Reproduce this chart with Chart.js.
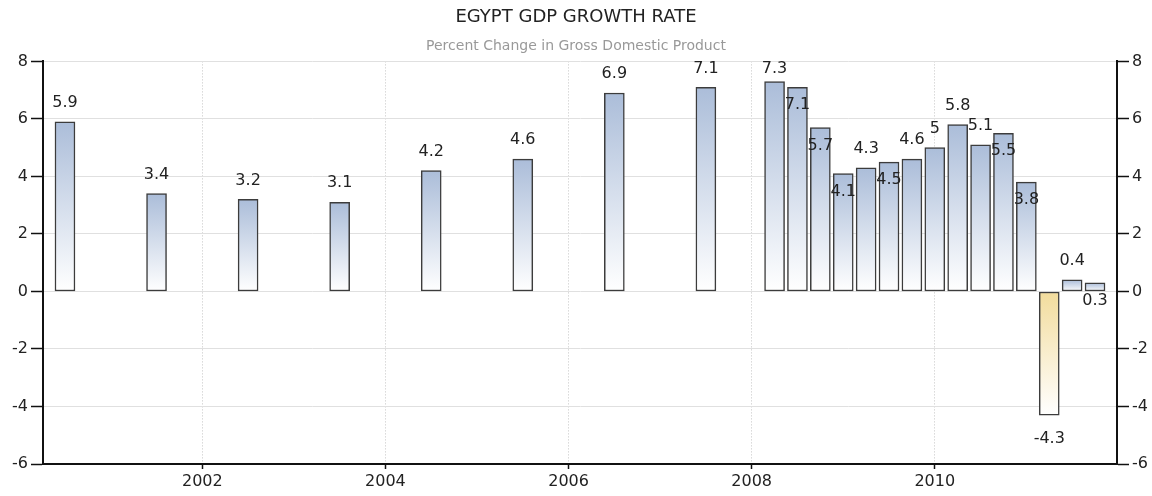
<!DOCTYPE html>
<html>
<head>
<meta charset="utf-8">
<title>Egypt GDP Growth Rate</title>
<script src="https://cdn.jsdelivr.net/npm/chart.js@4.4.1/dist/chart.umd.min.js"></script>
<style>
  html, body { margin: 0; padding: 0; background: #fff; }
  #wrap { width: 1152px; height: 496px; }
</style>
</head>
<body>
<div id="wrap"><canvas id="gdpChart"></canvas></div>
<script>
// Values. x = end of the period, as a decimal year
const periods = [2000.5, 2001.5, 2002.5, 2003.5, 2004.5, 2005.5, 2006.5, 2007.5,
    2008.25, 2008.5, 2008.75, 2009.0, 2009.25, 2009.5, 2009.75, 2010.0,
    2010.25, 2010.5, 2010.75, 2011.0, 2011.25, 2011.5, 2011.75]
const growth = [5.9, 3.4, 3.2, 3.1, 4.2, 4.6, 6.9, 7.1,
    7.3, 7.1, 5.7, 4.1, 4.3, 4.5, 4.6, 5.0,
    5.8, 5.1, 5.5, 3.8, -4.3, 0.4, 0.3]
const yearTicks = [2002, 2004, 2006, 2008, 2010]
const valueTicks = [-6, -4, -2, 0, 2, 4, 6, 8]

Chart.defaults.font.family = '"DejaVu Sans", Verdana, sans-serif'
const tickFont = { size: 16 }
const ink = '#222'

// vertical gradient: colour at the top of each bar, white at the bottom
const barFill = (c) => {
    const chart = c.chart
    if (!chart.chartArea || !c.raw) return '#b0c1da'
    const v = c.raw.y
    const y = chart.scales.y
    const top = y.getPixelForValue(Math.max(v, 0))
    const bottom = y.getPixelForValue(Math.min(v, 0))
    const g = chart.ctx.createLinearGradient(0, top, 0, bottom)
    g.addColorStop(0, v < 0 ? '#f2dc9c' : '#abbdd9')
    g.addColorStop(1, '#ffffff')
    return g
}

// value labels, moved inside / beside the bar when they would overlap
const barLabels = {
    id: 'barLabels',
    afterDatasetsDraw(chart) {
        const { ctx, chartArea } = chart
        const meta = chart.getDatasetMeta(0)
        ctx.save()
        ctx.font = '16px "DejaVu Sans"'
        ctx.fillStyle = ink
        ctx.textAlign = 'center'
        ctx.textBaseline = 'middle'
        const placed = []
        const hits = (b) => placed.some(p =>
            Math.abs(p.x - b.x) < (p.w + b.w) / 2 && Math.abs(p.y - b.y) < 14)
        meta.data.forEach((bar, i) => {
            const v = growth[i]
            const text = String(v)
            const w = ctx.measureText(text).width
            let spots
            if (v < 0) {
                spots = [{ x: bar.x, y: bar.y + 24 }]
            } else {
                spots = [
                    { x: bar.x, y: Math.max(bar.y - 19, chartArea.top + 7) },
                    { x: bar.x, y: bar.y + 18 },
                    { x: bar.x + 27, y: bar.y + 3 }
                ]
            }
            const spot = spots.find(s => !hits({ x: s.x, y: s.y, w: w })) || spots[0]
            placed.push({ x: spot.x, y: spot.y, w: w })
            ctx.fillText(text, spot.x, spot.y)
        })
        ctx.restore()
    }
}

const yAxis = (position, width) => ({
    type: 'linear',
    position: position,
    min: -6,
    max: 8,
    afterBuildTicks: s => { s.ticks = valueTicks.map(v => ({ value: v })) },
    afterFit: s => { s.width = width },
    ticks: { font: tickFont, color: ink, padding: 3 },
    grid: {
        drawOnChartArea: position === 'left',
        color: '#e0e0e0',
        tickColor: '#111',
        tickLength: 12,
        tickWidth: 1.5
    },
    border: { display: true, color: '#111', width: 2 }
})

new Chart(document.querySelector('canvas#gdpChart'), {
    type: 'bar',
    data: {
        datasets: [{
            label: 'GDP growth',
            data: periods.map((x, i) => ({ x: x, y: growth[i] })),
            backgroundColor: barFill,
            borderColor: '#3c3c3c',
            borderWidth: 1.5,
            borderSkipped: false,
            barThickness: 20,
            yAxisID: 'y'
        }]
    },
    options: {
        responsive: true,
        maintainAspectRatio: false,
        animation: false,
        layout: { padding: 0 },
        plugins: {
            legend: { display: false },
            tooltip: { enabled: false },
            title: {
                display: true,
                text: 'EGYPT GDP GROWTH RATE',
                color: ink,
                font: { size: 18, weight: 'normal' },
                padding: { top: 7, bottom: 9 }
            },
            subtitle: {
                display: true,
                text: 'Percent Change in Gross Domestic Product',
                color: '#999',
                font: { size: 14 },
                padding: { top: 0, bottom: 7 }
            }
        },
        scales: {
            x: {
                type: 'linear',
                min: 2000.26,
                max: 2011.99,
                offset: false,
                afterBuildTicks: s => { s.ticks = yearTicks.map(v => ({ value: v })) },
                afterFit: s => { s.height = 32 },
                ticks: { font: tickFont, color: ink, padding: 3, maxRotation: 0, callback: v => String(v) },
                grid: { offset: false, color: '#c4c4c4', tickColor: '#111', tickLength: 5, tickWidth: 1.5 },
                border: { display: true, color: '#111', width: 2, dash: [1, 2] }
            },
            y: yAxis('left', 43),
            y2: yAxis('right', 35)
        }
    },
    plugins: [barLabels]
})
</script>
</body>
</html>
